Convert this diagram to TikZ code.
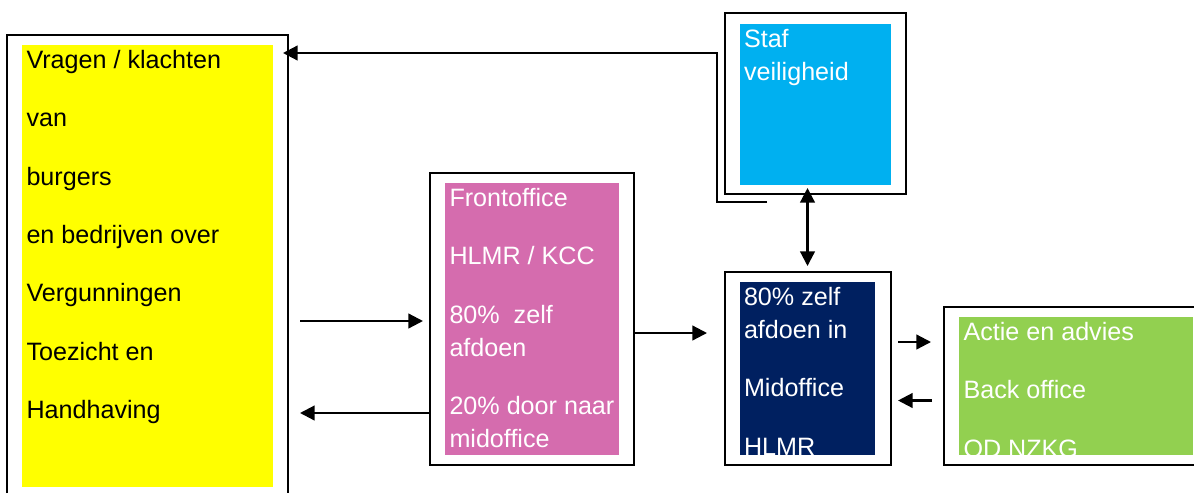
\documentclass[tikz,border=0pt]{standalone}
\usepackage{fontspec}
\setmainfont{Liberation Sans}
\usetikzlibrary{arrows.meta}
\definecolor{cyell}{HTML}{FFFF00}
\definecolor{cblue}{HTML}{00B0F0}
\definecolor{cnavy}{HTML}{002060}
\definecolor{cgreen}{HTML}{92D050}
\definecolor{cpink}{HTML}{D56CAE}
\newcommand{\gap}{\\[19.05pt]}
\tikzset{
  x=0.75pt,y=-0.75pt,
  frame/.style={draw=black,line width=1.5pt,fill=white,rectangle,inner sep=0pt,outer sep=0pt,anchor=north west},
  openframe/.style={draw=black,line width=1.5pt},
  panel/.style={rectangle,inner sep=0pt,outer sep=0pt,anchor=north west},
  label/.style={inner sep=0pt,outer sep=0pt,anchor=north west,align=left,
    font=\fontsize{18.85}{24.75}\selectfont},
  conn/.style={line width=1.7pt,-{Triangle[length=11pt,width=11pt]}},
  biconn/.style={line width=1.7pt,{Triangle[length=11pt,width=11pt]}-{Triangle[length=11pt,width=11pt]}},
  plain/.style={line width=1.7pt,line join=miter},
}
\begin{document}
\begin{tikzpicture}
\useasboundingbox (0,0) rectangle (1194,493);
% outer frames
\draw[openframe] (7,493) -- (7,35) -- (288,35) -- (288,493);
\node[frame,minimum width=204*0.75pt,minimum height=292*0.75pt] (front) at (430,173) {};
\node[frame,minimum width=181*0.75pt,minimum height=181*0.75pt] (staf) at (725,13) {};
\node[frame,minimum width=166*0.75pt,minimum height=193*0.75pt] (mid) at (725,272) {};
\draw[openframe] (1194,307) -- (944,307) -- (944,465) -- (1194,465);
% coloured panels
\node[panel,fill=cyell,minimum width=251*0.75pt,minimum height=442*0.75pt] (vragenp) at (22,45) {};
\node[panel,fill=cpink,minimum width=174*0.75pt,minimum height=272*0.75pt] (frontp) at (445,183) {};
\node[panel,fill=cblue,minimum width=151*0.75pt,minimum height=161*0.75pt] (stafp) at (740,23.5) {};
\node[panel,fill=cnavy,minimum width=135*0.75pt,minimum height=173*0.75pt] (midp) at (740,282) {};
\node[panel,fill=cgreen,minimum width=234*0.75pt,minimum height=138*0.75pt] (backp) at (959,317) {};
% texts
\node[label,text=black] (vragent) at (26.5,50) {Vragen / klachten\gap van\gap burgers\gap en bedrijven over\gap Vergunningen\gap Toezicht en\gap Handhaving};
\node[label,text=white] (frontt) at (449.5,188) {Frontoffice\gap HLMR / KCC\gap 80\%\ \ zelf\\afdoen\gap 20\% door naar\\midoffice};
\node[label,text=white] (staft) at (744,29) {Staf\\veiligheid};
\begin{scope}
  \clip (midp.north west) rectangle (midp.south east);
  \node[label,text=white] (midt) at (744,287) {80\% zelf\\afdoen in\gap Midoffice\gap HLMR};
\end{scope}
\begin{scope}
  \clip (backp.north west) rectangle (backp.south east);
  \node[label,text=white] (backt) at (963.5,322) {Actie en advies\gap Back office\gap OD NZKG};
\end{scope}
% connector end points
\coordinate (vragenin) at (283,53);
\coordinate (bendA) at (717,53);
\coordinate (bendB) at (717,202);
\coordinate (stafout) at (767,202);
\coordinate (vragenR1) at (300,321);
\coordinate (frontL1) at (423,321);
\coordinate (vragenR2) at (300,413);
\coordinate (midL) at (707,333);
\coordinate (stafS) at (807.5,188);
\coordinate (midN) at (807.5,266);
\coordinate (midR1) at (898,342);
\coordinate (backL1) at (931,342);
\coordinate (midR2) at (898,400.5);
\coordinate (backL2) at (932,400.5);
% connectors
\draw[conn] (vragenR1) -- (frontL1);
\draw[conn] (front.west |- vragenR2) -- (vragenR2);
\draw[conn] (front.east |- midL) -- (midL);
\draw[biconn] (stafS) -- (midN);
\draw[conn] (midR1) -- (backL1);
\draw[conn] (backL2) -- (midR2);
\draw[plain,-{Triangle[length=11pt,width=11pt]}] (stafout) -- (bendB) -- (bendA) -- (vragenin);
\end{tikzpicture}
\end{document}
